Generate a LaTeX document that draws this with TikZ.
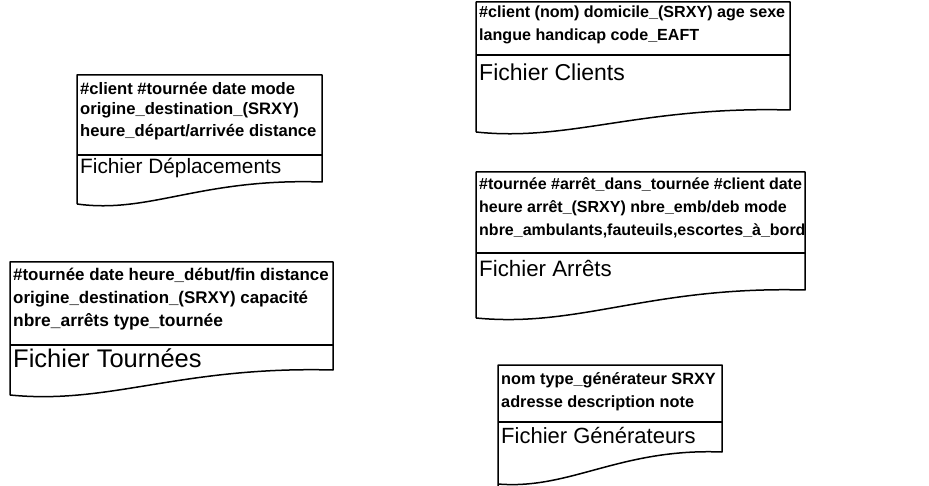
\documentclass[tikz,border=0pt]{standalone}
\usepackage{fontspec}
\setmainfont{Liberation Sans}
\begin{document}
\begin{tikzpicture}[x=1pt,y=-1pt,
  attrtxt/.style={anchor=west,inner sep=0pt,font=\fontsize{#1}{#1}\selectfont\bfseries},
  attrtxt/.default=16.4,
  ttltxt/.style={anchor=west,inner sep=0pt,font=\fontsize{#1}{#1}\selectfont},
  ttltxt/.default=22,
  docline/.style={line width=1.5pt,line join=round}]
\useasboundingbox (0,0) rectangle (929,486);
% Box 1: Deplacements
\draw[docline] (77,204) -- (77,75) -- (322,75) -- (322,182)
  .. controls (200,178) and (150,214) .. (77,204);
\draw[docline] (77,155) -- (322,155);
\node[attrtxt=16.6] (d1) at (80,88) {\#client \#tournée date mode};
\node[attrtxt=16.6] (d2) at (80,110) {origine\_destination\_(SRXY)};
\node[attrtxt=16.6] (d3) at (80,132) {heure\_départ/arrivée distance};
\node[ttltxt=20.8] (dt) at (80,168) {Fichier Déplacements};
% Box 2: Clients
\draw[docline] (476,132) -- (476,2) -- (790,2) -- (790,110)
  .. controls (640,106) and (570,142) .. (476,132);
\draw[docline] (476,55) -- (790,55);
\node[attrtxt=16.1] (c1) at (479,13) {\#client (nom) domicile\_(SRXY) age sexe};
\node[attrtxt=16.1] (c2) at (479,36) {langue handicap code\_EAFT};
\node[ttltxt=23] (ct) at (479,72) {Fichier Clients};
% Box 3: Tournees
\draw[docline] (10,395) -- (10,262) -- (333,262) -- (333,370)
  .. controls (180,366) and (110,405) .. (10,395);
\draw[docline] (10,345) -- (333,345);
\node[attrtxt=16.9] (t1) at (13,275) {\#tournée date heure\_début/fin distance};
\node[attrtxt=16.9] (t2) at (13,299) {origine\_destination\_(SRXY) capacité};
\node[attrtxt=17.4] (t3) at (13,322) {nbre\_arrêts type\_tournée};
\node[ttltxt=25.5] (tt) at (13,358) {Fichier Tournées};
% Box 4: Arrets
\draw[docline] (476,318) -- (476,172) -- (805,172) -- (805,290)
  .. controls (650,286) and (580,328) .. (476,318);
\draw[docline] (476,253) -- (805,253);
\node[attrtxt=16] (a1) at (479,185) {\#tournée \#arrêt\_dans\_tournée \#client date};
\node[attrtxt=16] (a2) at (479,208) {heure arrêt\_(SRXY) nbre\_emb/deb mode};
\node[attrtxt=16] (a3) at (479,231) {nbre\_ambulants,fauteuils,escortes\_à\_bord};
\node[ttltxt=22.3] (at) at (479,268) {Fichier Arrêts};
% Box 5: Generateurs
\draw[docline] (498,486) -- (498,365) -- (722,365) -- (722,452)
  .. controls (620,448) and (570,490) .. (498,484);
\draw[docline] (498,422) -- (722,422);
\node[attrtxt=16.3] (g1) at (501,380) {nom type\_générateur SRXY};
\node[attrtxt=16.3] (g2) at (501,403) {adresse description note};
\node[ttltxt=22] (gt) at (501,436) {Fichier Générateurs};
\end{tikzpicture}
\end{document}
